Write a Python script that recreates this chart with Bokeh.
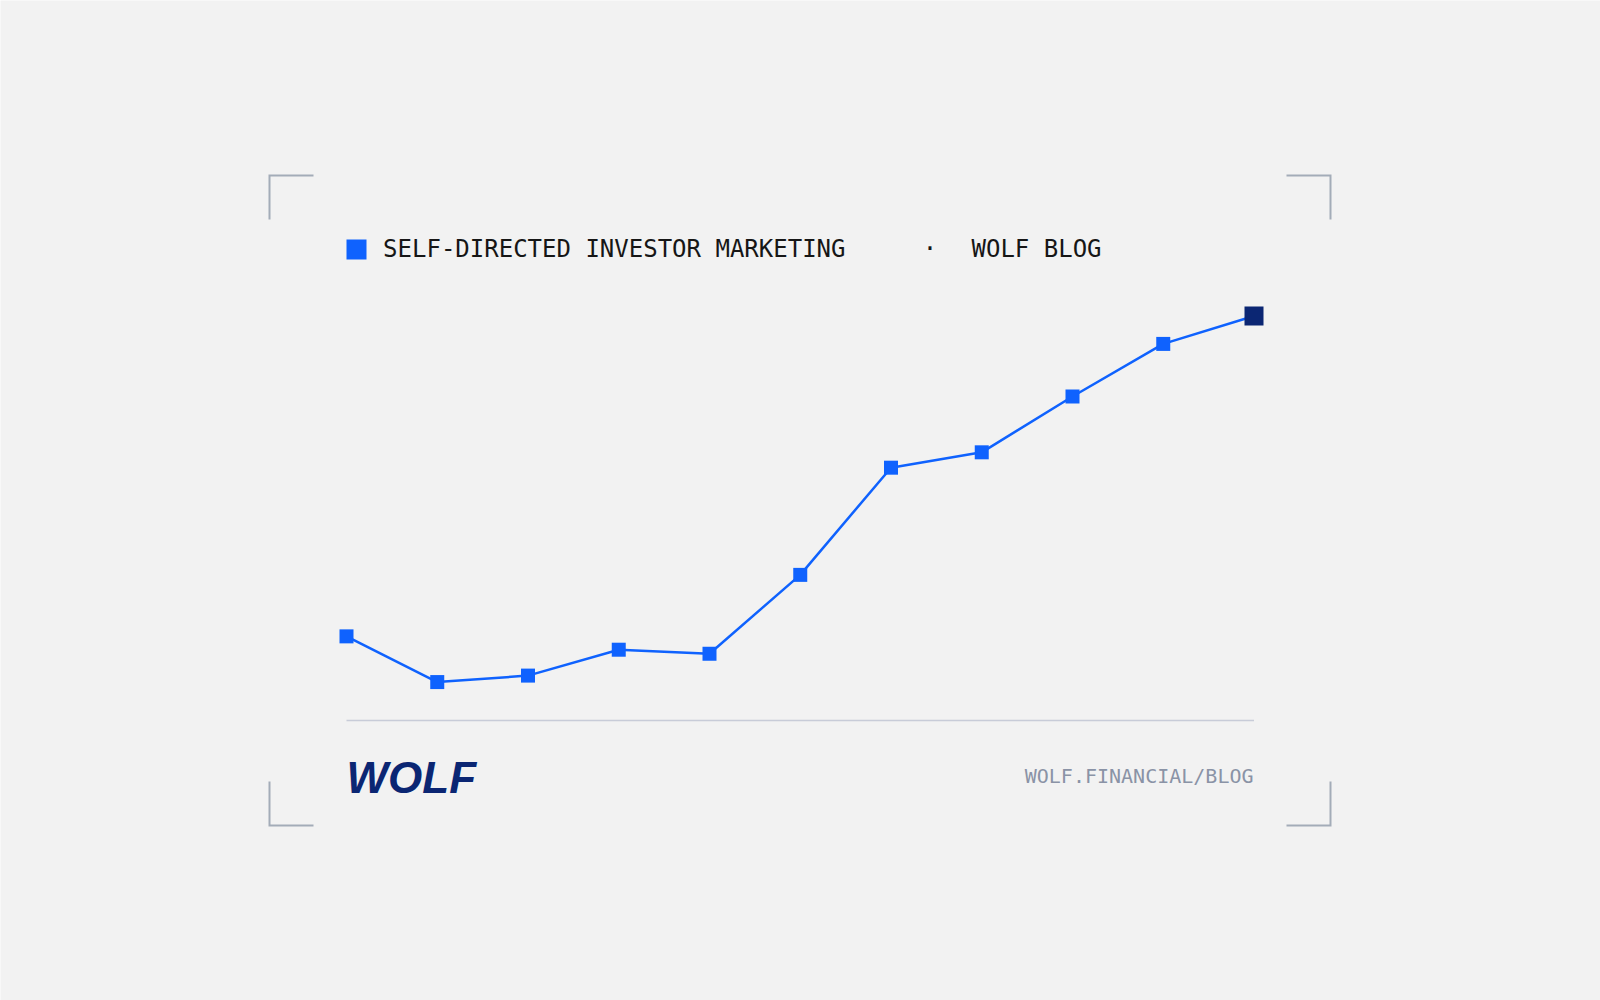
from bokeh.plotting import figure
from bokeh.models import Range1d, Label
from bokeh.embed import file_html
from bokeh.resources import INLINE

# ---- data ----
periods = list(range(11))
interest = [20.8, 9.5, 11.1, 17.5, 16.5, 36.0, 62.5, 66.3, 80.1, 93.1, 100.0]
title_main = "SELF-DIRECTED INVESTOR MARKETING"
title_sep = "·"
title_brand = "WOLF BLOG"
logo_text = "WOLF"
url_text = "WOLF.FINANCIAL/BLOG"

# ---- layout constants (page pixels) ----
W, H = 1600, 1000
OFF = 0
X_PITCH = 90.75
X0_PX = 346
Y_SCALE = 4.045
BASE_PX = 720

BG = "#f2f2f2"
BLUE = "#0f62fe"
NAVY = "#0b2673"
GREY = "#a3acb8"

x_start = periods[0] - (X0_PX - OFF) / X_PITCH
x_end = x_start + W / X_PITCH
y_start = 0 - (OFF + H - BASE_PX) / Y_SCALE
y_end = y_start + H / Y_SCALE


def fx(px):
    return x_start + (px - OFF) / X_PITCH


def fy(py):
    return y_end - (py - OFF) / Y_SCALE


p = figure(width=W, height=H, output_backend="svg", toolbar_location=None,
           x_range=Range1d(x_start, x_end), y_range=Range1d(y_start, y_end),
           min_border=0, outline_line_color=None,
           background_fill_color=BG, border_fill_color=BG)
p.axis.visible = False
p.grid.visible = False

# corner brackets
L, R, T, B, A = 269, 1330, 175, 825, 44
brackets_x = [
    [fx(L), fx(L), fx(L + A)],
    [fx(R - A), fx(R), fx(R)],
    [fx(L), fx(L), fx(L + A)],
    [fx(R - A), fx(R), fx(R)],
]
brackets_y = [
    [fy(T + A), fy(T), fy(T)],
    [fy(T), fy(T), fy(T + A)],
    [fy(B - A), fy(B), fy(B)],
    [fy(B), fy(B), fy(B - A)],
]
p.multi_line(xs=brackets_x, ys=brackets_y, line_color=GREY, line_width=2,
             line_join="miter", line_cap="butt")

# baseline
p.line(x=[periods[0], periods[-1]], y=[0, 0], line_color="#c8ccd8", line_width=1.5)

# series
p.line(x=periods, y=interest, line_color=BLUE, line_width=2.5)
p.scatter(x=periods[:-1], y=interest[:-1], marker="square", size=14,
          fill_color=BLUE, line_color=None)
p.scatter(x=periods[-1:], y=interest[-1:], marker="square", size=19,
          fill_color=NAVY, line_color=None)

# legend square
p.scatter(x=[fx(356)], y=[fy(249)], marker="square", size=20,
          fill_color=BLUE, line_color=None)

# title
title_kw = dict(text_font="DejaVu Sans Mono", text_font_size="24px",
                text_color="#161616", text_baseline="alphabetic")
TY = 248.5
p.add_layout(Label(x=fx(382.6), y=fy(TY), text=title_main, text_align="left", **title_kw))
p.add_layout(Label(x=fx(929.5), y=fy(TY), text=title_sep, text_align="center", **title_kw))
p.add_layout(Label(x=fx(971), y=fy(TY), text=title_brand, text_align="left", **title_kw))

# logo
p.add_layout(Label(x=fx(346), y=fy(777), text=logo_text, text_font="Liberation Sans",
                   text_font_style="bold italic", text_font_size="44px",
                   text_color=NAVY, text_align="left", text_baseline="alphabetic"))

# url
p.add_layout(Label(x=fx(1253), y=fy(775.6), text=url_text, text_font="DejaVu Sans Mono",
                   text_font_size="20px", text_color="#8a93a6",
                   text_align="right", text_baseline="alphabetic"))

open("out.html", "w").write(file_html(p, INLINE))
